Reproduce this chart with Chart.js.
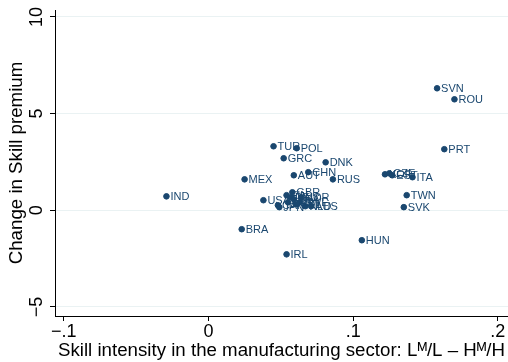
<!DOCTYPE html>
<html>
<head>
<meta charset="utf-8">
<script src="https://cdn.jsdelivr.net/npm/chart.js@4"></script>
<style>
  html, body { margin: 0; padding: 0; background: #fff; }
  #wrap { width: 508px; height: 362px; }
</style>
</head>
<body>
<div id="wrap"><canvas id="scatter"></canvas></div>
<script>
// country codes and values
const countries = ["SVN","ROU","PRT","TUR","POL","GRC","DNK","MEX","AUT","CHN","RUS","IND","BRA","IRL","HUN","TWN","SVK","ITA","KOR","CZE","EST","USA","GBR","FIN","DEU","NOR","FRA","ESP","SWE","BEL","CAN","JPN","NLD","AUS"];
const skillIntensity = [0.158,0.170,0.163,0.045,0.061,0.052,0.081,0.025,0.059,0.069,0.086,-0.029,0.023,0.054,0.106,0.137,0.135,0.141,0.122,0.125,0.127,0.038,0.058,0.054,0.057,0.064,0.059,0.055,0.063,0.061,0.048,0.049,0.067,0.071];
const premiumChange = [6.31,5.74,3.16,3.31,3.21,2.69,2.48,1.60,1.81,1.97,1.60,0.72,-0.98,-2.28,-1.55,0.78,0.16,1.71,1.86,1.91,1.81,0.52,0.93,0.78,0.67,0.67,0.57,0.41,0.41,0.31,0.26,0.16,0.21,0.21];

const xTicks = [-0.1, 0, 0.1, 0.2];
const xTickLabels = ["\u2212.1", "0", ".1", ".2"];
const yTicks = [-5, 0, 5, 10];
const yTickLabels = ["\u22125", "0", "5", "10"];

const navy = "#1a476f";
const font = "'Liberation Sans', Arial, sans-serif";

const points = countries.map((c, i) => ({ x: skillIntensity[i], y: premiumChange[i] }));

// writes the country code to the right of each dot
const pointLabels = {
  id: "pointLabels",
  afterDatasetsDraw(chart) {
    const ctx = chart.ctx;
    const meta = chart.getDatasetMeta(0);
    ctx.save();
    ctx.font = "11px " + font;
    ctx.fillStyle = navy;
    ctx.textBaseline = "middle";
    ctx.textAlign = "left";
    meta.data.forEach((pt, i) => {
      ctx.fillText(countries[i], pt.x + 4, pt.y + 1);
    });
    ctx.restore();
  }
};

new Chart(document.getElementById("scatter"), {
  type: "scatter",
  data: {
    datasets: [{
      data: points,
      backgroundColor: navy,
      borderColor: navy,
      pointRadius: 2.8,
      pointHoverRadius: 2.8
    }]
  },
  options: {
    responsive: true,
    maintainAspectRatio: false,
    animation: false,
    layout: { autoPadding: false, padding: { top: 10, right: 0, left: 0, bottom: 0 } },
    plugins: { legend: { display: false }, tooltip: { enabled: false } },
    scales: {
      x: {
        type: "linear",
        min: -0.106,
        max: 0.207,
        afterBuildTicks: s => { s.ticks = xTicks.map(v => ({ value: v })); },
        afterFit: s => { s.height = 46; s.paddingLeft = 0; s.paddingRight = 0; },
        ticks: {
          color: "#000",
          font: { family: font, size: 18 },
          padding: 0,
          maxRotation: 0,
          autoSkip: false,
          callback: (v, i) => xTickLabels[i]
        },
        grid: { drawOnChartArea: false, drawTicks: true, tickLength: 5, tickColor: "#000" },
        border: { color: "#000", width: 1 },
        title: {
          display: true,
          text: "Skill intensity in the manufacturing sector: L\u1D39/L \u2013 H\u1D39/H",
          color: "#000",
          font: { family: font, size: 18.7 },
          padding: { top: 0, bottom: 0 }
        }
      },
      y: {
        type: "linear",
        min: -5.47,
        max: 10.36,
        afterBuildTicks: s => { s.ticks = yTicks.map(v => ({ value: v })); },
        afterFit: s => { s.width = 55; s.paddingTop = 0; s.paddingBottom = 0; },
        ticks: {
          color: "#000",
          font: { family: font, size: 18 },
          padding: 3,
          crossAlign: "center",
          minRotation: 90,
          maxRotation: 90,
          autoSkip: false,
          callback: (v, i) => yTickLabels[i]
        },
        grid: { color: "#eaf2f3", lineWidth: 1, drawTicks: true, tickLength: 5, tickColor: "#000" },
        border: { color: "#000", width: 1 },
        title: {
          display: true,
          text: "Change in Skill premium",
          color: "#000",
          font: { family: font, size: 18.7 },
          padding: { top: 6, bottom: 0 }
        }
      }
    }
  },
  plugins: [pointLabels]
});
</script>
</body>
</html>
